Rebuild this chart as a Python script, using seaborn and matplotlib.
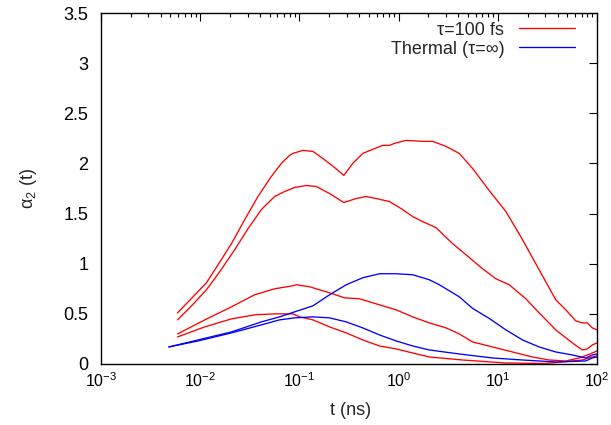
import numpy as np
import pandas as pd
import matplotlib
matplotlib.use("Agg")
import matplotlib.pyplot as plt
from matplotlib.lines import Line2D
from matplotlib.ticker import LogLocator, FixedLocator, NullFormatter
import seaborn as sns

# ---------------- data ----------------
# tau = 100 fs curves (red)
t_a = [0.00591, 0.00818, 0.01156, 0.01514, 0.02065, 0.02812, 0.03819, 0.05212, 0.06577,
       0.0796, 0.0861, 0.1084, 0.1368, 0.1721, 0.2259, 0.2806, 0.3451, 0.4355, 0.5483,
       0.6918, 0.8072, 0.9078, 1.189, 1.747, 2.203, 3.006, 4.089, 5.563, 8.185, 12.07,
       17.74, 26.09, 38.43, 48.44, 61.10, 71.15, 79.83, 89.74, 100.0]
a_a = [0.51, 0.655, 0.81, 0.99, 1.20, 1.44, 1.67, 1.87, 2.00,
       2.08, 2.10, 2.13, 2.12, 2.05, 1.96, 1.88, 2.00, 2.10, 2.14,
       2.18, 2.18, 2.20, 2.23, 2.22, 2.22, 2.17, 2.10, 1.95, 1.73, 1.52,
       1.24, 0.94, 0.64, 0.54, 0.43, 0.41, 0.41, 0.36, 0.34]

t_b = [0.00591, 0.00818, 0.01156, 0.01574, 0.02229, 0.03034, 0.04140, 0.05623, 0.07096,
       0.08954, 0.1172, 0.1479, 0.2013, 0.2806, 0.3733, 0.4710, 0.5943, 0.8072, 1.099,
       1.386, 1.747, 2.383, 3.501, 4.775, 7.011, 9.570, 13.03, 19.19, 26.09, 38.43,
       56.49, 71.15, 79.83, 89.74, 100.0]
a_b = [0.44, 0.58, 0.74, 0.92, 1.14, 1.35, 1.54, 1.67, 1.72,
       1.76, 1.78, 1.77, 1.70, 1.61, 1.65, 1.67, 1.65, 1.62, 1.54,
       1.47, 1.42, 1.36, 1.20, 1.09, 0.95, 0.85, 0.79, 0.65, 0.51, 0.34,
       0.21, 0.14, 0.15, 0.19, 0.21]

t_c = [0.00591, 0.01112, 0.02065, 0.0354, 0.05623, 0.0861, 0.0931, 0.1267, 0.2013,
       0.2851, 0.4036, 0.6412, 0.9441, 1.386, 2.040, 3.006, 4.089, 5.563, 8.846,
       14.06, 22.35, 32.85, 48.44, 65.93, 79.83, 89.74, 100.0]
a_c = [0.30, 0.44, 0.57, 0.69, 0.75, 0.78, 0.79, 0.77, 0.71,
       0.66, 0.65, 0.59, 0.54, 0.47, 0.41, 0.36, 0.30, 0.22, 0.17,
       0.12, 0.07, 0.04, 0.03, 0.06, 0.09, 0.11, 0.13]

t_d = [0.00591, 0.01112, 0.02065, 0.0354, 0.05623, 0.0861, 0.1005, 0.1368, 0.2013,
       0.2965, 0.4355, 0.6412, 0.9441, 1.386, 2.040, 4.4, 12.07, 30.0, 71.15,
       89.74, 100.0]
a_d = [0.27, 0.37, 0.45, 0.49, 0.50, 0.50, 0.47, 0.44, 0.37,
       0.31, 0.24, 0.18, 0.15, 0.11, 0.07, 0.04, 0.01, 0.005, 0.04,
       0.07, 0.08]

# thermal curves (blue)
t_e = [0.00483, 0.00953, 0.02065, 0.0414, 0.0631, 0.0895, 0.1368, 0.2013, 0.2965,
       0.4355, 0.6412, 0.9441, 1.386, 2.040, 2.572, 3.006, 4.089, 5.563, 8.185,
       12.07, 17.74, 26.09, 38.43, 56.49, 76.94, 89.74, 100.0]
a_e = [0.17, 0.24, 0.32, 0.42, 0.47, 0.52, 0.58, 0.69, 0.79,
       0.86, 0.90, 0.90, 0.89, 0.84, 0.79, 0.75, 0.67, 0.555, 0.455,
       0.34, 0.24, 0.17, 0.12, 0.09, 0.06, 0.09, 0.10]

t_f = [0.00483, 0.00953, 0.02065, 0.0414, 0.0631, 0.0895, 0.1368, 0.2013, 0.2965,
       0.4355, 0.6412, 0.9441, 1.386, 2.040, 4.089, 8.846, 17.74, 38.43, 76.94,
       89.74, 100.0]
a_f = [0.17, 0.23, 0.31, 0.39, 0.44, 0.46, 0.47, 0.46, 0.42,
       0.36, 0.29, 0.23, 0.18, 0.14, 0.10, 0.06, 0.04, 0.02, 0.03,
       0.06, 0.07]

legend_labels = ["τ=100 fs", "Thermal (τ=∞)"]
y_ticks = [0, 0.5, 1, 1.5, 2, 2.5, 3, 3.5]
y_tick_labels = ["0", "0.5", "1", "1.5", "2", "2.5", "3", "3.5"]

# ---------------- build long-form table ----------------
curves = [
    ("A", legend_labels[0], t_a, a_a),
    ("B", legend_labels[0], t_b, a_b),
    ("C", legend_labels[0], t_c, a_c),
    ("D", legend_labels[0], t_d, a_d),
    ("E", legend_labels[1], t_e, a_e),
    ("F", legend_labels[1], t_f, a_f),
]
rows = []
for cid, kind, ts, vs in curves:
    for t, v in zip(ts, vs):
        rows.append({"curve": cid, "kind": kind, "t": t, "a": v})
df = pd.DataFrame(rows)

# ---------------- style ----------------
sns.set_style("white")
plt.rcParams["font.family"] = ["Liberation Sans", "DejaVu Sans"]
plt.rcParams["mathtext.fontset"] = "custom"
plt.rcParams["mathtext.rm"] = "Liberation Sans"
plt.rcParams["mathtext.it"] = "Liberation Sans:italic"
plt.rcParams["font.size"] = 13

palette = {legend_labels[0]: "#ff0000", legend_labels[1]: "#0000ff"}

fig = plt.figure(figsize=(6.11, 4.25), dpi=100)
ax = fig.add_axes([101 / 611, 61 / 425, 496 / 611, 351 / 425])

sns.lineplot(data=df, x="t", y="a", hue="kind", units="curve", estimator=None,
             palette=palette, sort=False, legend=False, linewidth=0.95, ax=ax)

ax.set_xscale("log")
ax.set_xlim(1e-3, 1e2)
ax.set_ylim(0, 3.5)
ax.yaxis.set_major_locator(FixedLocator(y_ticks))
ax.set_yticklabels(y_tick_labels)
ax.xaxis.set_major_locator(LogLocator(base=10, numticks=10))
ax.xaxis.set_minor_locator(LogLocator(base=10, subs=np.arange(2, 10), numticks=20))
ax.xaxis.set_minor_formatter(NullFormatter())

for s in ax.spines.values():
    s.set_color("black")
    s.set_linewidth(1.0)
    s.set_visible(True)

ax.tick_params(axis="both", which="both", direction="in", top=True, right=True,
               colors="black")
ax.tick_params(axis="both", which="major", length=6, width=0.8)
ax.tick_params(axis="x", which="minor", length=3, width=0.8)
ax.tick_params(axis="y", which="major", pad=9, labelsize=13)
ax.tick_params(axis="x", which="major", pad=5, labelsize=11.5)

ax.set_xlabel("t (ns)", fontsize=13)
ax.set_ylabel(r"$\mathregular{\alpha_2}$ (t)", fontsize=13)
ax.xaxis.set_label_coords(0.503, -0.108)
ax.yaxis.set_label_coords(-0.125, 0.5)

handles = [Line2D([0], [0], color=palette[k], lw=0.95) for k in legend_labels]
ax.legend(handles, legend_labels, loc="upper right", bbox_to_anchor=(0.955, 0.975),
          frameon=False, markerfirst=False, handlelength=3.1, handletextpad=0.8,
          labelspacing=0.1, borderpad=0, borderaxespad=0, fontsize=13)

fig.savefig("out.png", dpi=100)
